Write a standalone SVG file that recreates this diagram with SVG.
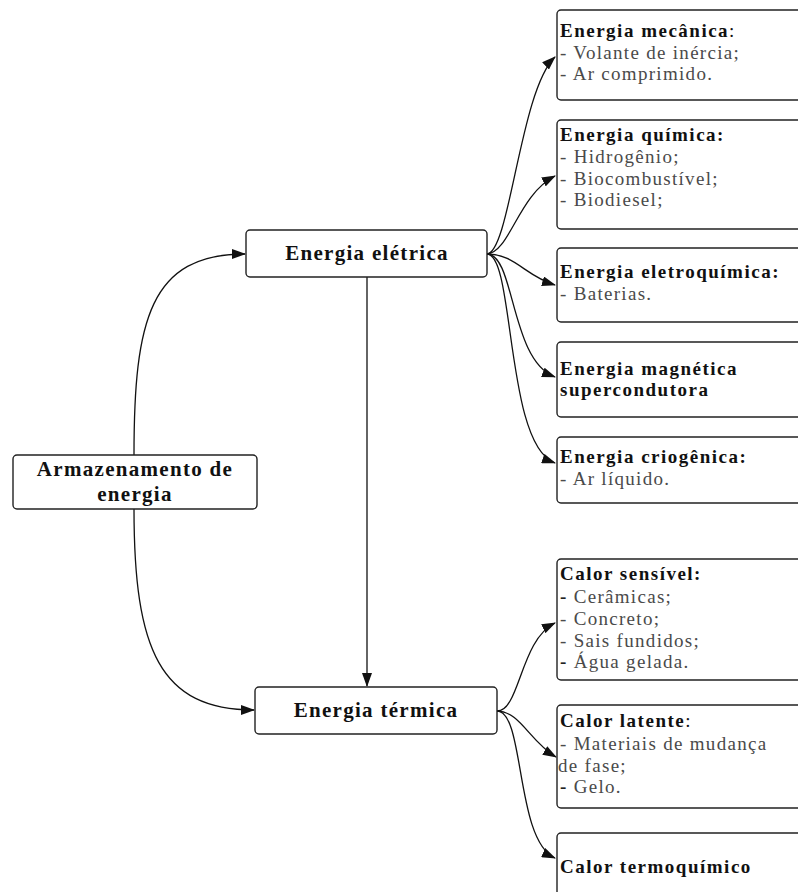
<svg xmlns="http://www.w3.org/2000/svg" width="798" height="892" viewBox="0 0 798 892">
<style>
.box{fill:#fff;stroke:#222;stroke-width:1.4}
.ct{font-family:"Liberation Serif","Times New Roman",serif;font-weight:bold;font-size:21px;letter-spacing:1.3px;fill:#111;text-anchor:middle}
.tt{font-family:"Liberation Serif","Times New Roman",serif;font-weight:bold;font-size:19px;letter-spacing:1.5px;fill:#111}
.li{font-family:"Liberation Serif","Times New Roman",serif;font-size:19px;letter-spacing:1.3px;fill:#4a4a4a}
.rg{font-weight:normal}
.dk{font-weight:bold;fill:#222}
.edge{fill:none;stroke:#111;stroke-width:1.3}
</style>
<defs>
<marker id="ah" markerWidth="14" markerHeight="10" refX="13" refY="5" orient="auto" markerUnits="userSpaceOnUse">
<path d="M0,0 L14,5 L0,10 Z" fill="#111"/>
</marker>
</defs>
<rect width="798" height="892" fill="#fff"/>

<g id="connectors">
<path class="edge" d="M134,455 C134,320 150,254 245,254" marker-end="url(#ah)"/>
<path class="edge" d="M134,509 C134,650 160,710 254,710" marker-end="url(#ah)"/>
<path class="edge" d="M367,277 L367,686" marker-end="url(#ah)"/>
<path class="edge" d="M487,254 C510,252 520,90 555,57" marker-end="url(#ah)"/>
<path class="edge" d="M487,254 C510,252 518,195 555,176" marker-end="url(#ah)"/>
<path class="edge" d="M487,254 C515,254 525,276 555,285" marker-end="url(#ah)"/>
<path class="edge" d="M487,254 C515,254 510,360 555,377" marker-end="url(#ah)"/>
<path class="edge" d="M487,254 C515,254 505,445 555,463" marker-end="url(#ah)"/>
<path class="edge" d="M497,711 C520,711 520,640 555,623" marker-end="url(#ah)"/>
<path class="edge" d="M497,711 C520,711 530,742 556,757" marker-end="url(#ah)"/>
<path class="edge" d="M497,711 C525,711 515,840 555,858" marker-end="url(#ah)"/>
</g>

<g id="armazenamento">
<rect class="box" x="13" y="455" width="244" height="54" rx="4"/>
<text class="ct" x="135" y="476">Armazenamento de</text>
<text class="ct" x="135" y="501">energia</text>
</g>

<g id="energia-eletrica">
<rect class="box" x="246" y="230" width="241" height="47" rx="4"/>
<text class="ct" x="367" y="260">Energia elétrica</text>
</g>

<g id="energia-termica">
<rect class="box" x="255" y="687" width="242" height="47" rx="4"/>
<text class="ct" x="376" y="717">Energia térmica</text>
</g>

<g id="mecanica">
<rect class="box" x="557" y="10" width="260" height="90" rx="4"/>
<text class="tt" x="560" y="37">Energia mecânica<tspan class="rg">:</tspan></text>
<text class="li" x="560" y="59">- Volante de inércia;</text>
<text class="li" x="560" y="80">- Ar comprimido.</text>
</g>

<g id="quimica">
<rect class="box" x="557" y="120" width="260" height="109" rx="4"/>
<text class="tt" x="560" y="141">Energia química:</text>
<text class="li" x="560" y="163">- Hidrogênio;</text>
<text class="li" x="560" y="185">- Biocombustível;</text>
<text class="li" x="560" y="206">- Biodiesel;</text>
</g>

<g id="eletroquimica">
<rect class="box" x="557" y="248" width="260" height="74" rx="4"/>
<text class="tt" x="560" y="278">Energia eletroquímica:</text>
<text class="li" x="560" y="300">- Baterias.</text>
</g>

<g id="magnetica">
<rect class="box" x="557" y="342" width="260" height="75" rx="4"/>
<text class="tt" x="560" y="375">Energia magnética</text>
<text class="tt" x="560" y="396">supercondutora</text>
</g>

<g id="criogenica">
<rect class="box" x="557" y="437" width="260" height="66" rx="4"/>
<text class="tt" x="560" y="463">Energia criogênica:</text>
<text class="li" x="560" y="485">- Ar líquido.</text>
</g>

<g id="sensivel">
<rect class="box" x="557" y="559" width="260" height="121" rx="4"/>
<text class="tt" x="560" y="580">Calor sensível:</text>
<text class="li" x="560" y="603"><tspan class="dk">-</tspan> Cerâmicas;</text>
<text class="li" x="560" y="625">- Concreto;</text>
<text class="li" x="560" y="647">- Sais fundidos;</text>
<text class="li" x="560" y="668"><tspan class="dk">-</tspan> Água gelada.</text>
</g>

<g id="latente">
<rect class="box" x="557" y="705" width="260" height="103" rx="4"/>
<text class="tt" x="560" y="727">Calor latente<tspan class="rg">:</tspan></text>
<text class="li" x="560" y="750">- Materiais de mudança</text>
<text class="li" x="558" y="772">de fase;</text>
<text class="li" x="560" y="793"><tspan class="dk">-</tspan> Gelo.</text>
</g>

<g id="termoquimico">
<rect class="box" x="557" y="833" width="260" height="80" rx="4"/>
<text class="tt" x="560" y="873">Calor termoquímico</text>
</g>
</svg>
